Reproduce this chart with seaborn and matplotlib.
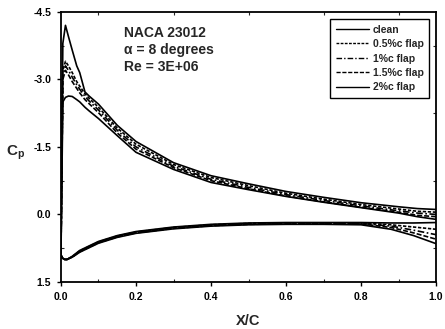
import numpy as np
import pandas as pd
import matplotlib
matplotlib.use("Agg")
import matplotlib.pyplot as plt
import seaborn as sns
from matplotlib.ticker import MultipleLocator

configs = ["clean", "0.5%c flap", "1%c flap", "1.5%c flap", "2%c flap"]

x_upper = [0.0, 0.005, 0.012, 0.02, 0.03, 0.042, 0.05, 0.064, 0.075, 0.1, 0.15,
           0.2, 0.3, 0.4, 0.5, 0.6, 0.7, 0.8, 0.9, 0.95, 1.0]
cp_upper_clean = [0.9, -3.8, -4.2, -3.95, -3.65, -3.3, -3.15, -2.72, -2.63, -2.45, -1.98,
                  -1.62, -1.15, -0.86, -0.68, -0.51, -0.38, -0.26, -0.17, -0.13, -0.11]
cp_upper_05 = [0.9, -3.2, -3.4, -3.3, -3.15, -2.95, -2.85, -2.68, -2.58, -2.38, -1.92,
               -1.56, -1.11, -0.82, -0.64, -0.47, -0.34, -0.22, -0.12, -0.07, -0.05]
cp_upper_10 = [0.9, -3.1, -3.3, -3.2, -3.05, -2.88, -2.78, -2.62, -2.52, -2.32, -1.87,
               -1.50, -1.07, -0.78, -0.60, -0.44, -0.31, -0.19, -0.08, -0.03, 0.0]
cp_upper_15 = [0.9, -3.0, -3.2, -3.1, -2.95, -2.8, -2.7, -2.55, -2.46, -2.26, -1.81,
               -1.45, -1.04, -0.75, -0.57, -0.41, -0.28, -0.16, -0.05, 0.02, 0.05]
cp_upper_20 = [0.9, -2.5, -2.6, -2.63, -2.62, -2.55, -2.5, -2.38, -2.3, -2.13, -1.75,
               -1.38, -1.0, -0.71, -0.55, -0.40, -0.27, -0.15, -0.03, 0.05, 0.11]

x_lower = [0.0, 0.004, 0.01, 0.016, 0.03, 0.05, 0.1, 0.15, 0.2, 0.3, 0.4, 0.5,
           0.6, 0.7, 0.8, 0.88, 0.94, 1.0]
cp_lower_clean = [0.9, 0.97, 1.0, 1.0, 0.93, 0.8, 0.6, 0.47, 0.38, 0.28, 0.22, 0.19,
                  0.18, 0.18, 0.18, 0.19, 0.19, 0.18]
cp_lower_05 = [0.9, 0.97, 1.0, 1.0, 0.94, 0.81, 0.61, 0.48, 0.39, 0.29, 0.23, 0.2,
               0.19, 0.19, 0.19, 0.23, 0.28, 0.33]
cp_lower_10 = [0.9, 0.97, 1.0, 1.0, 0.94, 0.82, 0.62, 0.49, 0.4, 0.3, 0.24, 0.21,
               0.2, 0.2, 0.2, 0.26, 0.35, 0.45]
cp_lower_15 = [0.9, 0.97, 1.0, 1.0, 0.95, 0.83, 0.63, 0.5, 0.41, 0.31, 0.25, 0.22,
               0.21, 0.21, 0.21, 0.29, 0.41, 0.55]
cp_lower_20 = [0.9, 0.97, 1.0, 1.0, 0.95, 0.84, 0.64, 0.51, 0.42, 0.32, 0.26, 0.23,
               0.22, 0.22, 0.23, 0.33, 0.47, 0.65]

upper = [cp_upper_clean, cp_upper_05, cp_upper_10, cp_upper_15, cp_upper_20]
lower = [cp_lower_clean, cp_lower_05, cp_lower_10, cp_lower_15, cp_lower_20]

rows = []
for name, up, lo in zip(configs, upper, lower):
    xs = list(reversed(x_upper)) + x_lower[1:]
    cs = list(reversed(up)) + lo[1:]
    for i, (xv, cv) in enumerate(zip(xs, cs)):
        rows.append({"config": name, "x": xv, "cp": cv, "order": i})
df = pd.DataFrame(rows)

sns.set_style("ticks")
plt.rcParams["font.family"] = ["Liberation Sans", "DejaVu Sans"]
plt.rcParams["font.weight"] = "bold"

fig = plt.figure(figsize=(4.45, 3.29), dpi=100)
ax = fig.add_axes([0.137, 0.143, 0.843, 0.821])

dashes = {"clean": "", "0.5%c flap": (2, 1), "1%c flap": (4, 1.5, 1, 1.5),
          "1.5%c flap": (3, 1.2), "2%c flap": ""}
palette = {c: "black" for c in configs}
sns.lineplot(data=df, x="x", y="cp", hue="config", style="config", sort=False,
             estimator=None, units="config", palette=palette, dashes=dashes,
             linewidth=1.2, ax=ax, legend=True)

ax.set_xlim(0, 1.0)
ax.set_ylim(1.5, -4.5)
ax.set_xticks([0, 0.2, 0.4, 0.6, 0.8, 1.0])
ax.set_xticklabels(["0.0", "0.2", "0.4", "0.6", "0.8", "1.0"])
ax.set_yticks([-4.5, -3.0, -1.5, 0.0, 1.5])
ax.set_yticklabels(["-4.5", "-3.0", "-1.5", "0.0", "1.5"])
ax.xaxis.set_minor_locator(MultipleLocator(0.1))
ax.yaxis.set_minor_locator(MultipleLocator(0.75))
ax.tick_params(which="major", direction="out", length=3, width=1, labelsize=7.5,
               colors="black")
ax.tick_params(axis="y", which="major", pad=4)
ax.tick_params(axis="x", which="major", pad=4)
ax.tick_params(which="minor", direction="in", length=2.5, width=0.8,
               top=True, right=True)
for lbl in ax.get_xticklabels() + ax.get_yticklabels():
    lbl.set_fontweight("bold")
for sp in ax.spines.values():
    sp.set_visible(True)
    sp.set_linewidth(1.3)
    sp.set_color("black")

ax.set_xlabel("X/C", fontsize=10.5, fontweight="bold", labelpad=9)
ax.set_ylabel(r"C$_\mathregular{p}$", fontsize=11, fontweight="bold", rotation=0,
              labelpad=14, va="center")
ax.yaxis.set_label_coords(-0.12, 0.48)

ax.text(0.168, 0.948, "NACA 23012\nα = 8 degrees\nRe = 3E+06",
        transform=ax.transAxes, fontsize=10, fontweight="bold", va="top",
        ha="left", linespacing=1.3)

leg = ax.legend(loc="upper right", bbox_to_anchor=(0.976, 0.958),
                bbox_transform=fig.transFigure, fontsize=7.5, frameon=True,
                fancybox=False, edgecolor="black", framealpha=1,
                handlelength=3.2, handletextpad=0.3, labelspacing=0.42,
                borderpad=0.55, title=None)
leg.get_frame().set_linewidth(1.0)
for t in leg.get_texts():
    t.set_fontweight("bold")
for h in leg.get_lines():
    h.set_linewidth(1.0)

fig.savefig("out.png", dpi=100)
